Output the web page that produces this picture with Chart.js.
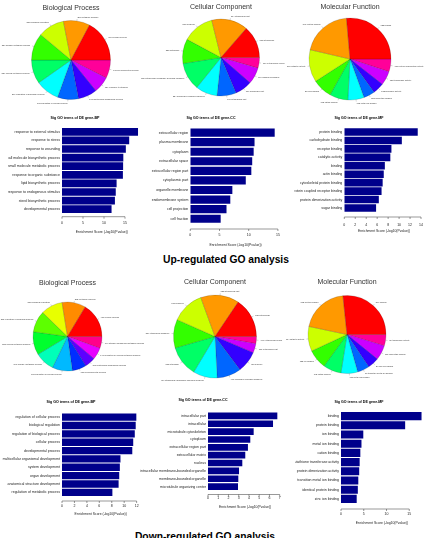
<!DOCTYPE html>
<html><head><meta charset="utf-8">
<script src="https://cdn.jsdelivr.net/npm/chart.js@4/dist/chart.umd.min.js"></script>
<style>
html,body{margin:0;padding:0;background:#fff;width:429px;height:538px;overflow:hidden;position:relative;font-family:"Liberation Sans",Arial,sans-serif}
canvas{position:absolute}
.big{position:absolute;font-weight:bold;font-size:10.3px;color:#000;white-space:nowrap;transform:translate(-50%,-50%)}
</style></head><body>
<div class="big" style="left:226px;top:259px">Up-regulated GO analysis</div>
<div class="big" style="left:205px;top:536px">Down-regulated GO analysis</div>
<script>
// ---------- pie data (R order: counter-clockwise from 3 o'clock) ----------
const upBPTerms=['cellular process','metabolic process','biological regulation','primary metabolic process','cellular metabolic process','regulation of biological process','regulation of cellular process','multicellular organismal process','response to stimulus','developmental process'];
const upBPCounts=[397,250,250,256,224,224,198,179,154,173];
const upCCTerms=['intracellular','intracellular part','organelle','cytoplasm','intracellular membrane-bounded organelle','membrane-bounded organelle','cytoplasmic part','membrane part','plasma membrane','extracellular region'];
const upCCCounts=[333,374,326,252,286,224,197,177,170,109];
const upMFTerms=['binding','protein binding','catalytic activity','ion binding','cation binding','metal ion binding','nucleotide binding','hydrolase activity','transferase activity','protein dimerization activity'];
const upMFCounts=[722,547,350,213,198,175,122,122,152,137];
const downBPTerms=['cellular process','metabolic process','biological regulation','regulation of biological process','cellular metabolic process','primary metabolic process','regulation of cellular process','developmental process','multicellular organismal process','regulation of cellular metabolic process','nitrogen compound metabolic process'];
const downBPCounts=[431,292,270,263,285,241,248,175,131,146,146];
const downCCTerms=['intracellular','intracellular part','organelle','intracellular organelle','cytoplasm','intracellular membrane-bounded organelle','membrane-bounded organelle','nucleus','cytoplasmic part','extracellular region'];
const downCCCounts=[818,788,672,584,628,496,496,438,190,146];
const downMFTerms=['binding','protein binding','catalytic activity','ion binding','cation binding','metal ion binding','transition metal ion binding','zinc ion binding','nucleotide binding','transferase activity'];
const downMFCounts=[504,378,194,152,142,131,95,89,116,89];

// ---------- bar data (top to bottom) ----------
const upBPCats=['response to external stimulus','response to stress','response to wounding','small molecule biosynthetic process','small molecule metabolic process','response to organic substance','lipid biosynthetic process','response to endogenous stimulus','sterol biosynthetic process','developmental process'];
const upBPVals=[18.1,16.0,15.2,14.6,14.55,14.5,13.0,12.8,12.6,11.8];
const upCCCats=['extracellular region','plasma membrane','cytoplasm','extracellular space','extracellular region part','cytoplasmic part','organelle membrane','endomembrane system','cell projection','cell fraction'];
const upCCVals=[14.45,11.0,10.85,10.6,10.45,9.5,7.2,6.85,6.2,5.2];
const upMFCats=['protein binding','carbohydrate binding','receptor binding','catalytic activity','binding','actin binding','cytoskeletal protein binding','G-protein coupled receptor binding','protein dimerization activity','sugar binding'];
const upMFVals=[13.4,10.5,8.6,8.4,7.4,7.2,7.0,6.8,6.3,5.8];
const downBPCats=['regulation of cellular process','biological regulation','regulation of biological process','cellular process','developmental process','multicellular organismal development','system development','organ development','anatomical structure development','regulation of metabolic process'];
const downBPVals=[11.95,11.85,11.7,11.45,11.3,9.4,9.3,9.2,9.1,8.1];
const downCCCats=['intracellular part','intracellular','microtubule cytoskeleton','cytoplasm','extracellular region part','extracellular matrix','nucleus','intracellular membrane-bounded organelle','membrane-bounded organelle','microtubule organizing center'];
const downCCVals=[6.77,6.35,4.46,4.13,3.9,3.64,3.35,3.03,2.96,2.93];
const downMFCats=['binding','protein binding','ion binding','metal ion binding','cation binding','glutathione transferase activity','protein dimerization activity','transition metal ion binding','identical protein binding','zinc ion binding'];
const downMFVals=[17.7,14.1,4.9,4.5,4.25,4.1,4.0,3.8,3.7,3.45];

// ---------- tick labels ----------
const upBPTicks=[0,5,10,15];
const upCCTicks=[0,5,10,15];
const upMFTicks=[0,2,4,6,8,10,12,14];
const downBPTicks=[0,2,4,6,8,10,12];
const downCCTicks=[0,1,2,3,4,5,6,7];
const downMFTicks=[0,5,10,15];
const axisTitle='Enrichment Score (-log10(Pvalue))';

const FONT='"Liberation Sans", Arial, sans-serif';

function rainbow(n){const a=[];for(let i=0;i<n;i++)a.push('hsl('+(360*i/n)+',100%,50%)');return a;}
function makeCanvas(left,top,w,h){const c=document.createElement('canvas');c.width=w;c.height=h;c.style.left=left+'px';c.style.top=top+'px';c.style.width=w+'px';c.style.height=h+'px';document.body.appendChild(c);return c;}

const rAxis={id:'rAxis',afterDraw(chart,args,o){
  const xs=chart.scales.x,ctx=chart.ctx,t=xs.ticks;
  const y=chart.chartArea.bottom+o.off;
  ctx.save();ctx.strokeStyle='#333';ctx.lineWidth=0.5;ctx.beginPath();
  ctx.moveTo(xs.getPixelForValue(t[0].value),y);ctx.lineTo(xs.getPixelForValue(t[t.length-1].value),y);
  t.forEach(k=>{const x=xs.getPixelForValue(k.value);ctx.moveTo(x,y);ctx.lineTo(x,y+o.len);});
  ctx.stroke();ctx.restore();
}};

const pieLabels={id:'pieLabels',afterDatasetsDraw(chart){
  const meta=chart.getDatasetMeta(0),ctx=chart.ctx,labels=chart.data.labels;
  ctx.save();ctx.font='2.1px '+FONT;ctx.fillStyle='#333';ctx.strokeStyle='#777';ctx.lineWidth=0.3;ctx.textBaseline='middle';
  meta.data.forEach((arc,i)=>{
    const p=arc.getProps(['x','y','startAngle','endAngle','outerRadius'],true);
    const a=(p.startAngle+p.endAngle)/2,c=Math.cos(a),s=Math.sin(a),r=p.outerRadius;
    ctx.beginPath();ctx.moveTo(p.x+c*r,p.y+s*r);ctx.lineTo(p.x+c*r*1.05,p.y+s*r*1.05);ctx.stroke();
    ctx.textAlign=c>=0?'left':'right';
    ctx.fillText(labels[i],p.x+c*r*1.1,p.y+s*r*1.1);
  });
  ctx.restore();
}};

function pieChart(c){
  const fs=7,W=170,aw=2*c.r+40;
  const L=Math.round(c.cx-85);
  const cxl=c.cx-L,padL=cxl-aw/2,padR=W-cxl-aw/2;
  const tPadTop=c.titleY-c.top-fs*0.6;
  const areaTop=c.cy-c.r-0.25-c.top;
  const tPadBot=areaTop-tPadTop-fs*1.2;
  const areaH=2*c.r+0.5;
  const H=Math.ceil(areaTop+areaH+14);
  const padB=H-areaTop-areaH;
  const cv=makeCanvas(L,c.top,W,H);
  const n=c.counts.length;
  new Chart(cv,{type:'pie',
    data:{labels:c.terms.map((t,i)=>c.counts[i]+' '+t).reverse(),
      datasets:[{data:[...c.counts].reverse(),backgroundColor:rainbow(n).reverse(),borderColor:'rgba(0,0,0,0.3)',borderWidth:0.5}]},
    options:{responsive:false,animation:false,devicePixelRatio:1,events:[],rotation:90,
      layout:{padding:{left:padL,right:padR,top:0,bottom:padB}},
      plugins:{legend:{display:false},tooltip:{enabled:false},
        title:{display:true,text:c.title,color:'#333',font:{family:FONT,size:fs,weight:'normal'},padding:{top:tPadTop,bottom:tPadBot}}}},
    plugins:[pieLabels]});
}

function barChart(c){
  const fsT=c.fsT||3.6,fsL=3.5,fsK=3.5,fsA=3.4;
  const areaRight=c.x0+c.max*c.ppu;
  const L=Math.floor(Math.min(c.col,2*c.tc-areaRight));
  const padL=2*c.tc-areaRight-L;
  const W=Math.ceil(areaRight+2-L);
  const padR=W-(areaRight-L);
  const top=Math.floor(c.titleY-fsT*0.6-0.5);
  const tPadTop=c.titleY-top-fsT*0.6;
  const tPadBot=c.areaTop-top-tPadTop-fsT*1.2;
  const axH=c.axTitleY-c.areaBottom+fsA*0.6;
  const H=Math.ceil(c.areaBottom+axH-top+1);
  const padB=H-(c.areaBottom+axH-top);
  const yW=c.x0-L-padL;
  const tickLH=2*(c.tickY-c.areaBottom)/fsK;
  const cv=makeCanvas(L,top,W,H);
  new Chart(cv,{type:'bar',
    data:{labels:c.cats,datasets:[{data:c.vals,backgroundColor:'#00008B',borderWidth:0,barPercentage:c.bp||0.88,categoryPercentage:1}]},
    options:{indexAxis:'y',responsive:false,animation:false,devicePixelRatio:1,events:[],
      layout:{padding:{left:padL,right:padR,top:0,bottom:padB}},
      plugins:{legend:{display:false},tooltip:{enabled:false},
        title:{display:true,text:c.title,color:'#000',font:{family:FONT,size:fsT,weight:'bold'},padding:{top:tPadTop,bottom:tPadBot}},
        rAxis:{off:c.axY-c.areaBottom,len:2}},
      scales:{
        x:{type:'linear',min:0,max:c.max,
          afterBuildTicks:s=>{s.ticks=c.ticks.map(v=>({value:v}));},
          afterFit:s=>{s.height=axH;},
          grid:{display:false,drawTicks:false},border:{display:false},
          ticks:{autoSkip:false,maxRotation:0,padding:0,color:'#222',font:{family:FONT,size:fsK,lineHeight:tickLH}},
          title:{display:true,text:axisTitle,color:'#222',font:{family:FONT,size:fsA},padding:0}},
        y:{afterFit:s=>{s.width=yW;},grid:{display:false,drawTicks:false},border:{display:false},
          ticks:{autoSkip:false,padding:2,color:'#222',font:{family:FONT,size:fsL}}}
      }},
    plugins:[rAxis]});
}

// pies
pieChart({title:'Biological Process',terms:upBPTerms,counts:upBPCounts,cx:71,cy:60,r:39.5,top:0,titleY:7.7});
pieChart({title:'Cellular Component',terms:upCCTerms,counts:upCCCounts,cx:221,cy:57.5,r:38.5,top:0,titleY:7});
pieChart({title:'Molecular Function',terms:upMFTerms,counts:upMFCounts,cx:350,cy:59,r:41,top:0,titleY:7});
pieChart({title:'Biological Process',terms:downBPTerms,counts:downBPCounts,cx:67.5,cy:336.5,r:34.5,top:268,titleY:283});
pieChart({title:'Cellular Component',terms:downCCTerms,counts:downCCCounts,cx:215,cy:336.5,r:41.5,top:268,titleY:282});
pieChart({title:'Molecular Function',terms:downMFTerms,counts:downMFCounts,cx:347,cy:334.5,r:39,top:268,titleY:282});

// bars
barChart({title:'Sig GO terms of DE gene-BP',cats:upBPCats,vals:upBPVals,ticks:upBPTicks,col:0,tc:75,titleY:118,x0:62,ppu:4.2,max:19,areaTop:127.5,areaBottom:213.5,axY:216.7,tickY:223.3,axTitleY:232,bp:0.9});
barChart({title:'Sig GO terms of DE gene-CC',cats:upCCCats,vals:upCCVals,ticks:upCCTicks,col:143,tc:211,titleY:118,x0:190.3,ppu:5.84,max:15.5,areaTop:127.8,areaBottom:223.5,axY:229,tickY:235,axTitleY:245,bp:0.85});
barChart({title:'Sig GO terms of DE gene-MF',cats:upMFCats,vals:upMFVals,ticks:upMFTicks,col:286,tc:359,titleY:118,x0:344.3,ppu:5.48,max:14.5,areaTop:127.8,areaBottom:212.2,axY:217,tickY:225.3,axTitleY:231,bp:0.9});
barChart({title:'Sig GO terms of DE gene-BP',cats:downBPCats,vals:downBPVals,ticks:downBPTicks,col:0,tc:71,titleY:402,x0:62,ppu:6.22,max:12.45,areaTop:413,areaBottom:496.5,axY:501,tickY:506,axTitleY:514.3,bp:0.88});
barChart({title:'Sig GO terms of DE gene-CC',cats:downCCCats,vals:downCCVals,ticks:downCCTicks,col:143,tc:203,titleY:400,x0:208,ppu:10.24,max:7.25,areaTop:412,areaBottom:490.5,axY:494.5,tickY:498.5,axTitleY:506.7,bp:0.85});
barChart({title:'Sig GO terms of DE gene-MF',cats:downMFCats,vals:downMFVals,ticks:downMFTicks,col:286,tc:359,titleY:402,x0:341,ppu:4.55,max:18,areaTop:411.5,areaBottom:503.5,axY:509,tickY:514,axTitleY:523.3,bp:0.88});
</script>
</body></html>
